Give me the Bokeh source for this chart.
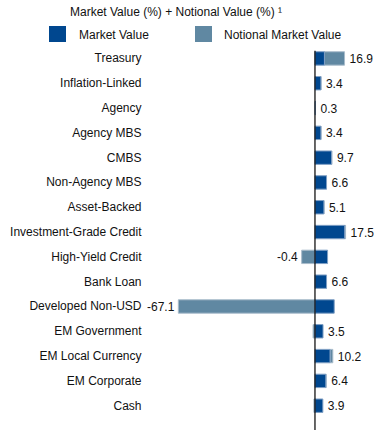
from bokeh.plotting import figure
from bokeh.layouts import column
from bokeh.models import Range1d, FixedTicker, Span, ColumnDataSource, Div
from bokeh.core.properties import value
from bokeh.embed import file_html
from bokeh.resources import INLINE

categories = ["Treasury", "Inflation-Linked", "Agency", "Agency MBS", "CMBS",
              "Non-Agency MBS", "Asset-Backed", "Investment-Grade Credit",
              "High-Yield Credit", "Bank Loan", "Developed Non-USD",
              "EM Government", "EM Local Currency", "EM Corporate", "Cash"]
market_value = [5.4, 3.4, 0.3, 3.4, 9.5, 6.6, 5.1, 17.0, 7.2, 6.6, 11.0, 4.6, 8.6, 6.2, 4.5]
notional_value = [11.5, 0.0, 0.0, 0.0, 0.2, 0.0, 0.0, 0.5, -7.6, 0.0, -78.1, -1.1, 1.6, 0.2, -0.6]
totals = [16.9, 3.4, 0.3, 3.4, 9.7, 6.6, 5.1, 17.5, -0.4, 6.6, -67.1, 3.5, 10.2, 6.4, 3.9]
series_names = ["Market Value", "Notional Market Value"]
title_text = "Market Value (%) + Notional Value (%) \u00b9"

MV_COLOR = "#00478F"
NV_COLOR = "#6088A2"
MV_LINE = "#7F9FC4"
NV_LINE = "#A9BCCB"
FONT = "Liberation Sans"
TXT = "#111111"

# ---------- header (title + legend) ----------
def box(left, top, w, h, color):
    return ('<div style="position:absolute;left:%dpx;top:%dpx;width:%dpx;height:%dpx;'
            'background:%s;"></div>' % (left, top, w, h, color))

def txt(left, top, s, size):
    return ('<div style="position:absolute;left:%dpx;top:%dpx;font-family:\'%s\';'
            'font-size:%s;color:%s;white-space:nowrap;line-height:1;">%s</div>'
            % (left, top, FONT, size, TXT, s))

header_html = ('<div style="position:relative;width:382px;height:50px;">'
               + txt(70, 6, title_text, "12px")
               + box(49, 26, 17, 16, MV_COLOR)
               + txt(79, 29, series_names[0], "12px")
               + box(195, 26, 17, 16, NV_COLOR)
               + txt(224, 29, series_names[1], "12px")
               + '</div>')
hdr = Div(text=header_html, width=382, height=50, margin=0)

# ---------- main chart ----------
ypos = list(range(len(categories)))
mv_left = [0.0] * len(categories)
mv_right = market_value
nv_left = [m if n >= 0 else n for m, n in zip(market_value, notional_value)]
nv_right = [m + n if n >= 0 else 0.0 for m, n in zip(market_value, notional_value)]

p = figure(width=382, height=380, output_backend="svg", toolbar_location=None,
           x_range=Range1d(-96.3, 38.6), y_range=Range1d(15.0, -0.32),
           min_border_left=146, min_border_top=0, min_border_bottom=0, min_border_right=0,
           margin=0)
p.outline_line_color = None
p.grid.visible = False
p.xaxis.visible = False

p.yaxis.ticker = FixedTicker(ticks=ypos)
p.yaxis.major_label_overrides = {i: c for i, c in zip(ypos, categories)}
p.yaxis.axis_line_color = None
p.yaxis.major_tick_line_color = None
p.yaxis.minor_tick_line_color = None
p.yaxis.major_tick_out = 0
p.yaxis.major_tick_in = 0
p.yaxis.minor_tick_out = 0
p.yaxis.major_label_standoff = 5
p.yaxis.major_label_text_font = FONT
p.yaxis.major_label_text_font_size = "12px"
p.yaxis.major_label_text_color = TXT

src = ColumnDataSource(dict(y=ypos, mvl=mv_left, mvr=mv_right, nvl=nv_left, nvr=nv_right))
h = 0.54
p.hbar(y="y", left="nvl", right="nvr", height=h, source=src, fill_color=NV_COLOR,
       line_color=NV_LINE, line_width=1)
p.hbar(y="y", left="mvl", right="mvr", height=h, source=src, fill_color=MV_COLOR,
       line_color=MV_LINE, line_width=1)

p.add_layout(Span(location=0, dimension="height", line_color="black", line_width=1.2))

px, py, pt = [], [], []
nx, ny, nt = [], [], []
for y, m, n, t in zip(ypos, market_value, notional_value, totals):
    if t >= 0:
        px.append(max(m, m + n)); py.append(y); pt.append("%.1f" % t)
    else:
        nx.append(min(0, n)); ny.append(y); nt.append("%.1f" % t)
p.text(x=px, y=py, text=pt, x_offset=5, text_align="left", text_baseline="middle",
       text_font=value(FONT), text_font_size="12px", text_color=TXT)
p.text(x=nx, y=ny, text=nt, x_offset=-4, text_align="right", text_baseline="middle",
       text_font=value(FONT), text_font_size="12px", text_color=TXT)

layout = column(hdr, p, spacing=0, margin=0)
open("out.html", "w").write(file_html(layout, INLINE))
